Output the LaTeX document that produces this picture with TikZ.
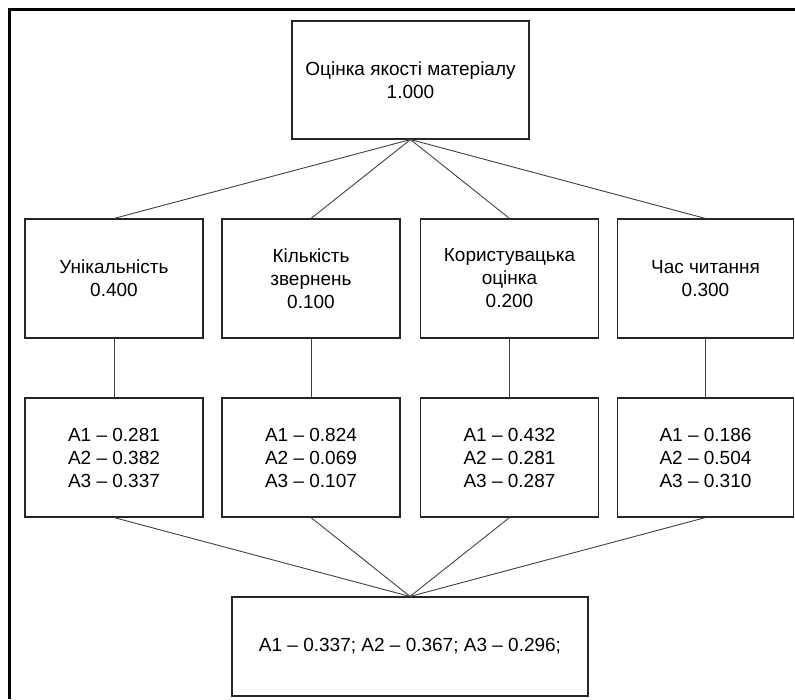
\documentclass[tikz,border=0pt]{standalone}
\usepackage{fontspec}
\setmainfont{Liberation Sans}
\usetikzlibrary{positioning}
\tikzset{box/.style={draw=black!85,line width=1.1pt,align=center,inner sep=0pt,
  minimum width=178pt,minimum height=119pt,font=\fontsize{19}{23}\selectfont},
  link/.style={draw=black!75,line width=0.9pt}}

\begin{document}
\begin{tikzpicture}[x=1pt,y=-1pt]
\useasboundingbox (0,0) rectangle (795,699);
\draw[line width=3pt] (9.5,699) -- (9.5,9) -- (795,9);
\node[box,minimum width=237pt,minimum height=118pt] (top) at (410.5,80) {Оцінка якості матеріалу\\1.000};
\node[box] (u) at (114,278.5) {Унікальність\\0.400};
\node[box] (k) at (311,278.5) {Кількість\\звернень\\0.100};
\node[box] (c) at (509.5,278.5) {Користувацька\\оцінка\\0.200};
\node[box,minimum width=176pt] (t) at (705.5,278.5) {Час читання\\0.300};
\node[box] (su) at (114,457.5) {A1 – 0.281\\A2 – 0.382\\A3 – 0.337};
\node[box] (sk) at (311,457.5) {A1 – 0.824\\A2 – 0.069\\A3 – 0.107};
\node[box] (sc) at (509.5,457.5) {A1 – 0.432\\A2 – 0.281\\A3 – 0.287};
\node[box,minimum width=176pt] (st) at (705.5,457.5) {A1 – 0.186\\A2 – 0.504\\A3 – 0.310};
\node[box,minimum width=356pt,minimum height=99pt] (res) at (410,646.5) {A1 – 0.337; A2 – 0.367; A3 – 0.296;};
 \foreach \n in {u,k,c,t}
    \draw[link] (top.south) -- (\n.north);
 \foreach \n in {u,k,c,t}
    \draw[link] (\n.south) -- (s\n.north);
 \foreach \n in {u,k,c,t}
    \draw[link] (s\n.south) -- (res.north);
\end{tikzpicture}
\end{document}
